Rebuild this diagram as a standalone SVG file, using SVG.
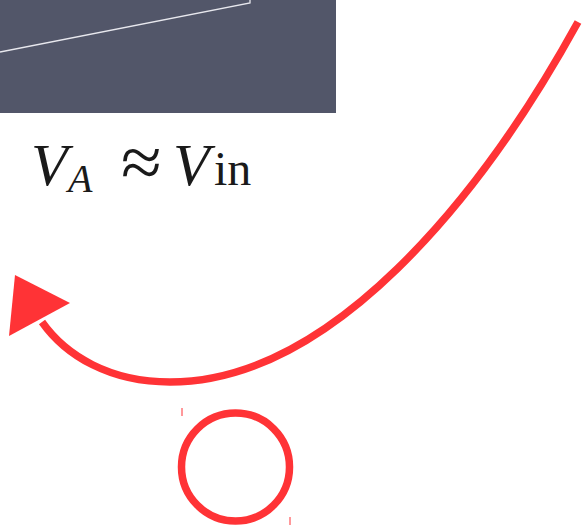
<svg xmlns="http://www.w3.org/2000/svg" width="583" height="525" viewBox="0 0 583 525">
<style>
.red{stroke:#ff3336;fill:none}
.eq{font-family:"Liberation Serif","Times New Roman",serif;fill:#1a1a1a}
</style>
<rect width="583" height="525" fill="#ffffff"/>
<g id="panel">
<rect x="0" y="0" width="336" height="113" fill="#525669"/>
<polyline points="0,52 250,3 250,0" fill="none" stroke="#e8e8ee" stroke-width="1.3"/>
</g>
<g id="label">
<text class="eq" y="185" font-size="60"><tspan x="31" font-style="italic">V</tspan><tspan x="68" y="192" font-style="italic" font-size="40">A</tspan><tspan x="121" y="187" font-size="74">≈</tspan><tspan x="173" y="185" font-style="italic">V</tspan><tspan x="214" font-size="48">in</tspan></text>
</g>
<g id="connectors">
<path class="red" stroke-width="7.5" d="M578,22 C480,200 330,382 170,382 C110,382 66,356 42,322"/>
<polygon points="15,275 70,303 9,336" fill="#ff3336"/>
</g>
<g id="circle-node">
<circle class="red" cx="235.5" cy="467" r="54" stroke-width="7.5"/>
<line class="red" x1="182" y1="408" x2="182" y2="416" stroke-width="1"/>
<line class="red" x1="290" y1="517" x2="290" y2="525" stroke-width="1"/>
</g>
</svg>
